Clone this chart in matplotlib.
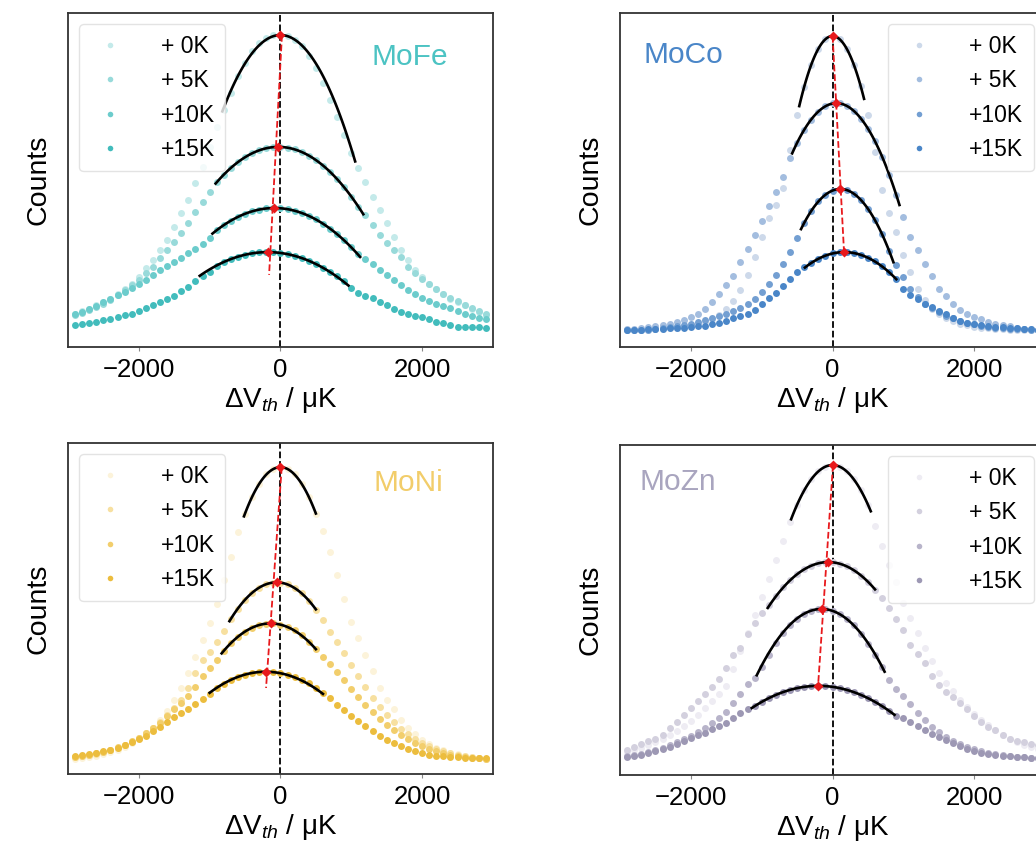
import numpy as np
import matplotlib
matplotlib.use('Agg')
import matplotlib.pyplot as plt
from matplotlib.lines import Line2D

plt.rcParams['font.family'] = ['Liberation Sans', 'DejaVu Sans']
plt.rcParams['mathtext.fontset'] = 'custom'
plt.rcParams['mathtext.rm'] = 'Liberation Sans'
plt.rcParams['mathtext.it'] = 'Liberation Sans:italic'

# bin centres of the threshold-voltage histograms (uK)
dv = np.arange(-2900, 3000, 100)

labels = ['+ 0K', '+ 5K', '+10K', '+15K']

# ---------------- MoFe ----------------
fe_0k = [10, 10.8, 11.5, 12.5, 13.5, 14.5, 16, 17.5, 19, 21,
         23.5, 26, 29, 32, 36, 40, 44, 49, 54, 60,
         66, 71, 76, 81, 85, 88.5, 91, 92.5, 93.5, 93.5,
         93, 92, 90, 87, 83.5, 79, 74, 69, 63.5, 58,
         53.5, 49.5, 45, 41, 37, 33, 29, 26, 23, 21,
         19, 17.5, 16, 14.5, 13.5, 12.5, 11.5, 10.5, 9.5]
fe_5k = [9.5, 10.3, 11, 12, 13, 14, 15.5, 17, 18.5, 20,
         22, 24, 26.5, 29, 31.5, 34, 37, 40.5, 43.5, 46.5,
         49.3, 51.6, 53.6, 55.4, 56.8, 58, 58.9, 59.5, 59.8, 59.9,
         59.7, 59.2, 58.4, 57.3, 56, 54.3, 52.5, 50.3, 47.8, 45,
         42, 39.5, 36.5, 33.5, 31, 29, 27, 24, 22, 20.5,
         19, 17.5, 16, 14.8, 13.7, 12.6, 11.6, 10.7, 10]
fe_10k = [9.8, 10.4, 11.3, 12.3, 13.4, 14.5, 15.6, 16.6, 17.6, 18.8,
          20.2, 21.6, 23, 24.3, 25.5, 26.5, 28, 29.3, 30.8, 32.5,
          35, 36.5, 37.8, 38.9, 39.9, 40.6, 41.1, 41.5, 41.6, 41.5,
          41.3, 40.8, 40.1, 39.2, 38.2, 36.9, 35.4, 33.8, 31.9, 29.8,
          27.7, 26.3, 24.8, 23, 21.6, 20.2, 18.6, 17, 15.8, 14.7,
          13.8, 13, 12.3, 11.6, 10.8, 10, 9.4, 8.8, 8.3]
fe_15k = [6.6, 6.9, 7.2, 7.6, 8, 8.5, 9, 9.5, 10, 10.8,
          11.8, 12.7, 13.6, 14.5, 15.4, 16.7, 18, 19.7, 21.4, 22.5,
          24.3, 25.3, 26.2, 27, 27.6, 28, 28.3, 28.4, 28.3, 28.1,
          27.8, 27.3, 26.6, 25.8, 24.8, 23.7, 22.5, 21.2, 19.7, 17.6,
          16.3, 15.4, 14.6, 13.5, 12.6, 11.5, 10.6, 9.8, 9.3, 8.9,
          8.3, 7.6, 7.1, 6.6, 6.1, 6, 6, 5.9, 5.7]

# ---------------- MoCo ----------------
co_0k = [5, 5, 5.1, 5.2, 5.3, 5.4, 5.6, 5.8, 6.1, 6.5,
         7, 7.6, 8.5, 9.7, 11.5, 13.8, 17, 21.5, 27, 33,
         38.5, 42.5, 47.5, 58.9, 69.4, 77.9, 84.5, 89.3, 92.1, 93.1,
         92.1, 89.3, 84.5, 78, 69.4, 58.5, 47, 40, 34.5, 27.5,
         22.5, 17.5, 14, 11.5, 9.8, 8.6, 7.7, 7, 6.5, 6.1,
         5.8, 5.6, 5.4, 5.3, 5.2, 5.1, 5, 5, 5]
co_5k = [5.3, 5.5, 5.7, 5.9, 6.2, 6.5, 6.9, 7.4, 8.2, 9.1,
         10, 11.4, 13.4, 15.8, 18.6, 21.4, 25.3, 29.4, 33.5, 37.6,
         42.3, 46.5, 50.8, 56.5, 61.1, 65, 68.1, 70.5, 72.1, 72.9,
         72.9, 72.2, 70.7, 68.4, 65.4, 61.6, 57, 51.6, 45.5, 39,
         33, 29, 24.8, 21.3, 17.4, 15.2, 12.8, 11.1, 9.9, 9,
         8.3, 7.6, 7, 6.6, 6.2, 5.8, 5.5, 5.3, 5.2]
co_10k = [5, 5, 5.1, 5.2, 5.4, 5.6, 5.9, 6.2, 6.6, 7,
          7.5, 8, 8.6, 9.3, 10, 10.8, 11.8, 13, 14.5, 16.4,
          18.8, 21.7, 24.8, 28.5, 32.5, 37.2, 40.7, 43.6, 45.6, 46.8,
          47.3, 47, 45.9, 44, 41.4, 38, 33.7, 28.7, 24.5, 21,
          17.5, 15, 13, 11.6, 10.4, 9.4, 8.6, 7.9, 7.3, 6.8,
          6.4, 6.1, 5.8, 5.6, 5.5, 5.4, 5.3, 5.2, 5.1]
co_15k = [5, 5.1, 5.2, 5.3, 5.4, 5.5, 5.6, 5.7, 5.8, 6,
          6.2, 6.4, 6.8, 7.3, 7.9, 8.6, 9.2, 10, 11, 12.8,
          14.8, 16.2, 18.4, 20.5, 22.5, 23.8, 25.2, 26.4, 27.3, 28,
          28.3, 28.4, 28.1, 27.6, 26.7, 25.6, 24.1, 22.4, 20.3, 17.5,
          15.6, 14.4, 13, 12, 10.9, 9.8, 8.8, 7.9, 7.2, 6.8,
          6.5, 6.2, 6, 5.9, 5.7, 5.6, 5.4, 5.3, 5.2]

# ---------------- MoNi ----------------
ni_0k = [4.5, 4.8, 5.1, 5.5, 6, 6.6, 7.3, 8.2, 9.3, 10.6,
         12.2, 14, 16.2, 19, 22.3, 26, 30.5, 35.5, 40.5, 45.5,
         51.5, 58.5, 65.5, 73, 78.7, 83.7, 87.7, 90.5, 92.1, 92.7,
         92.1, 90.5, 87.7, 83.7, 78.7, 73.5, 67, 60, 53, 46,
         41, 36, 31, 26, 22.5, 19.5, 16.3, 14, 12, 10.4,
         9, 8, 7.2, 6.5, 6, 5.5, 5.1, 4.8, 4.5]
ni_5k = [5, 5.3, 5.7, 6.1, 6.6, 7.2, 7.9, 8.7, 9.7, 10.9,
         12.3, 13.9, 15.7, 17.8, 20, 22.5, 26, 30.5, 34.3, 37,
         40, 43.2, 46.9, 50, 52.6, 54.7, 56.3, 57.3, 57.8, 57.8,
         57.3, 56.2, 54.6, 52.4, 49.7, 46.5, 43, 40, 36.5, 33,
         29.5, 26.2, 23, 20.3, 17.8, 15.6, 13.7, 12, 10.6, 9.4,
         8.4, 7.6, 6.9, 6.3, 5.8, 5.4, 5.1, 4.8, 4.6]
ni_10k = [5.2, 5.5, 5.9, 6.3, 6.8, 7.4, 8.1, 8.9, 9.9, 11,
          12.3, 13.8, 15.5, 17.4, 19.5, 21.4, 23.5, 26.4, 29.5, 32,
          34.5, 37.2, 39.5, 41.5, 43, 44.2, 45, 45.4, 45.5, 45.1,
          44.4, 43.4, 41.9, 40, 37.7, 35.5, 33.2, 30.8, 28.3, 25.8,
          23.2, 20.8, 18.6, 16.6, 14.8, 13.2, 11.8, 10.5, 9.4, 8.5,
          7.7, 7, 6.4, 5.9, 5.5, 5.2, 4.9, 4.7, 4.5]
ni_15k = [5.5, 5.7, 6, 6.5, 7, 7.4, 7.9, 8.7, 9.6, 10.5,
          11.6, 13, 14.3, 15.6, 17.1, 18.3, 19.5, 21.2, 22.8, 24.3,
          26, 27.3, 28.5, 29.3, 30, 30.5, 30.8, 30.9, 30.8, 30.5,
          29.9, 29.3, 28.4, 27.4, 26.1, 24.5, 22.9, 20.8, 19.2, 17.4,
          15.9, 14.6, 12.9, 11.6, 10.4, 9.3, 8.4, 7.7, 7, 6.3,
          5.9, 5.6, 5.4, 5.2, 5, 4.9, 4.9, 4.8, 4.8]

# ---------------- MoZn ----------------
zn_0k = [7, 7.6, 8.3, 9, 9.9, 10.9, 12, 13.3, 14.8, 16.5,
         18.3, 20.3, 22.5, 24.5, 27, 32, 37.5, 43, 48.5, 54,
         59.5, 65, 71, 76.6, 81.9, 86.2, 89.6, 92, 93.4, 93.9,
         93.4, 92, 89.6, 86.2, 81.9, 75.5, 69.5, 63.5, 58.5, 52,
         47.5, 43, 38.5, 34.5, 31, 28, 25.3, 22.8, 20.5, 18.5,
         16.7, 15, 13.5, 12.2, 11, 10, 9.2, 8.5, 7.8]
zn_5k = [7.5, 8.6, 9.5, 10.2, 11, 12.2, 14.3, 16.2, 18.2, 20.3,
         22.5, 24.5, 26.7, 29.1, 32.5, 36.5, 38.6, 42.6, 46, 49,
         51.5, 54.1, 56.9, 59, 60.8, 62.3, 63.4, 64.1, 64.5, 64.4,
         64, 63.2, 62, 60.4, 58.4, 56.1, 53.5, 50.5, 47.3, 44,
         39.5, 36.6, 33.8, 30, 27.4, 25.2, 23.5, 21.8, 20, 18,
         16.2, 14.6, 13.5, 12, 11, 10.2, 9.9, 9.5, 9]
zn_10k = [5.6, 6, 6.5, 7, 7.6, 8.3, 9, 9.9, 10.8, 11.8,
          13, 14.3, 15.7, 17.3, 19.2, 21.8, 24.6, 27.6, 29.3, 32.8,
          36.5, 40, 43, 45.5, 47.4, 48.9, 49.8, 50.3, 50.2, 49.7,
          48.7, 47.2, 45.3, 42.6, 39.7, 36.4, 32.7, 28.8, 26.2, 23.8,
          21.4, 18.9, 16.6, 14.6, 12.9, 11.5, 10.3, 9.3, 8.5, 7.8,
          7.2, 6.7, 6.3, 6, 5.7, 5.5, 5.3, 5.2, 5.1]
zn_15k = [5.5, 5.8, 6.2, 6.7, 7.2, 7.8, 8.5, 9.3, 10.4, 11.3,
          12, 12.8, 13.8, 14.7, 15.7, 17.3, 18.7, 19.9, 20.8, 22.1,
          23.3, 24.3, 25.1, 25.8, 26.3, 26.7, 26.9, 27, 26.9, 26.7,
          26.3, 25.8, 25.1, 24.3, 23.3, 22.1, 20.8, 19.4, 18, 17.2,
          16.1, 14.8, 13.6, 12.5, 11.5, 10.6, 9.7, 8.8, 8, 7.3,
          6.8, 6.4, 6, 5.8, 5.6, 5.4, 5.3, 5.2, 5.1]

# quadratic peak fits: vertex x, vertex y, curvature, fitted range
fe_fit_x0 = [0, -30, -85, -180]
fe_fit_y0 = [93.4, 59.9, 41.6, 28.4]
fe_fit_a = [3.4e-5, 1.4e-5, 1.0e-5, 7.7e-6]
fe_fit_lo = [-820, -915, -960, -1140]
fe_fit_hi = [1055, 1170, 1125, 960]

co_fit_x0 = [0, 55, 110, 165]
co_fit_y0 = [93.1, 73.0, 47.3, 28.4]
co_fit_a = [9.5e-5, 3.85e-5, 3.9e-5, 1.5e-5]
co_fit_lo = [-470, -570, -445, -390]
co_fit_hi = [445, 945, 860, 900]

ni_fit_x0 = [0, -55, -140, -210]
ni_fit_y0 = [92.7, 57.9, 45.5, 30.9]
ni_fit_a = [5.6e-5, 2.65e-5, 1.9e-5, 1.02e-5]
ni_fit_lo = [-515, -720, -830, -1000]
ni_fit_hi = [500, 500, 500, 600]

zn_fit_x0 = [0, -60, -155, -200]
zn_fit_y0 = [93.9, 64.5, 50.3, 27.0]
zn_fit_a = [4.8e-5, 1.9e-5, 2.4e-5, 7.6e-6]
zn_fit_lo = [-585, -915, -1070, -1140]
zn_fit_hi = [540, 600, 735, 875]

# lower end of the peak-drift trend line
red_low = {'MoFe': 21.6, 'MoCo': 28.4, 'MoNi': 26.0, 'MoZn': 27.0}

fe_cols = ['#c4eaea', '#98dada', '#6ccccc', '#42bcbc']
co_cols = ['#cdd9ea', '#a3bddf', '#739fd2', '#4a86c8']
ni_cols = ['#fcf3da', '#f7e0a0', '#f2ce6c', '#ecbd3e']
zn_cols = ['#eeecf3', '#d3d0de', '#b8b4ca', '#9d98b4']


def draw_panel(ax, series, fit, cols, name, name_col, leg_loc, name_pos):
    for y, c, lab in zip(series, cols, labels):
        ax.plot(dv, y, 'o', ms=5, mec='none', color=c, label=lab, zorder=2)

    x0, y0, a, lo, hi = fit
    for i in range(4):
        xf = np.linspace(lo[i], hi[i], 100)
        ax.plot(xf, y0[i] - a[i] * (xf - x0[i]) ** 2, 'k-', lw=1.9, zorder=3)

    # linear trend of the fitted peak positions
    p = np.polyfit(y0, x0, 1)
    yl = np.array([max(y0), red_low[name]])
    ax.plot(np.polyval(p, yl), yl, '--', color='#e8191c', lw=1.3, zorder=4)
    ax.plot(x0, y0, 'D', color='#e8191c', ms=5, mec='none', zorder=5)

    ax.axvline(0, color='k', ls='--', lw=1.3, zorder=1)

    ax.set_xlim(-3000, 3000)
    ax.set_ylim(0, 100)
    ax.set_yticks([])
    ax.set_xticks([-2000, 0, 2000])
    ax.set_xticklabels(['\u22122000', '0', '2000'])
    ax.tick_params(axis='x', labelsize=18.5, length=3, width=0.8,
                   color='#888888', pad=5)
    ax.set_xlabel('\u0394V$_{th}$ / \u03bcK', fontsize=20, labelpad=2)
    ax.set_ylabel('Counts', fontsize=20.5, labelpad=12)
    for s in ax.spines.values():
        s.set_color('#333333')
        s.set_linewidth(1.3)

    ax.text(name_pos[0], name_pos[1], name, color=name_col, fontsize=21.5,
            ha='center', va='center', transform=ax.transAxes)

    handles = [Line2D([], [], ls='none', marker='o', ms=4, mec='none',
                      color=c) for c in cols]
    ax.legend(handles, labels, loc=leg_loc, fontsize=16.5, numpoints=1,
              handletextpad=1.3, handlelength=1.8, labelspacing=0.5,
              borderpad=0.45, framealpha=0.8, edgecolor='#dddddd')


fig = plt.figure(figsize=(10.36, 8.43), dpi=100)
ax1 = fig.add_axes([0.0656, 0.5884, 0.4102, 0.3962])
ax2 = fig.add_axes([0.5985, 0.5884, 0.4102, 0.3962])
ax3 = fig.add_axes([0.0656, 0.0818, 0.4102, 0.3927])
ax4 = fig.add_axes([0.5985, 0.0807, 0.4102, 0.3915])

draw_panel(ax1, [fe_0k, fe_5k, fe_10k, fe_15k],
           (fe_fit_x0, fe_fit_y0, fe_fit_a, fe_fit_lo, fe_fit_hi),
           fe_cols, 'MoFe', '#4cc3c3', 'upper left', (0.805, 0.868))
draw_panel(ax2, [co_0k, co_5k, co_10k, co_15k],
           (co_fit_x0, co_fit_y0, co_fit_a, co_fit_lo, co_fit_hi),
           co_cols, 'MoCo', '#4a86c8', 'upper right', (0.15, 0.874))
draw_panel(ax3, [ni_0k, ni_5k, ni_10k, ni_15k],
           (ni_fit_x0, ni_fit_y0, ni_fit_a, ni_fit_lo, ni_fit_hi),
           ni_cols, 'MoNi', '#f2cd6a', 'upper left', (0.80, 0.879))
draw_panel(ax4, [zn_0k, zn_5k, zn_10k, zn_15k],
           (zn_fit_x0, zn_fit_y0, zn_fit_a, zn_fit_lo, zn_fit_hi),
           zn_cols, 'MoZn', '#a9a5bf', 'upper right', (0.137, 0.888))

fig.savefig('out.png', dpi=100)
